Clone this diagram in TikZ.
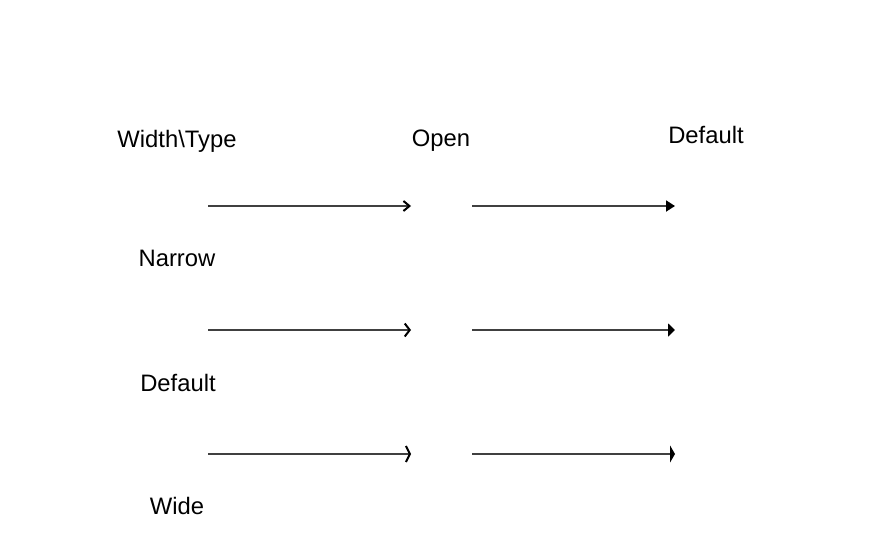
\documentclass[tikz,border=0pt]{standalone}
\usepackage{fontspec}
\setmainfont{Liberation Sans}
\usetikzlibrary{arrows.meta}

\begin{document}
\begin{tikzpicture}[x=1pt, y=-1pt, every node/.style={font=\fontsize{23.8}{28}\selectfont, inner sep=0pt}, conn/.style={line width=1.8pt, draw=black!75}]
  \useasboundingbox (0,0) rectangle (882,536);
  % header row
  \node (hdrwidth) at (177,141) {Width\textbackslash Type};
  \node (hdropen) at (441,141) {Open};
  \node (hdrdefault) at (706,135) {Default};
  % row labels
  \node (narrow) at (177,258) {Narrow};
  \node (default) at (178,383) {Default};
  \node (wide) at (177,506) {Wide};
  % arrow rows
  \foreach \name/\y/\w/\ow/\l/\ol in {narrow/206/11/10/9/6, default/330/13/13/7/5, wide/454/17/16/5/4} {
    \coordinate (\name-os) at (208,\y);
    \coordinate (\name-oe) at (411,\y);
    \coordinate (\name-fs) at (472,\y);
    \coordinate (\name-fe) at (675,\y);
    \draw[conn, -{Straight Barb[length=\ol pt, width=\ow pt, line width=2pt, color=black]}] (\name-os) -- (\name-oe);
    \draw[conn, -{Triangle[length=\l pt, width=\w pt, color=black]}] (\name-fs) -- (\name-fe);
  }
\end{tikzpicture}
\end{document}
